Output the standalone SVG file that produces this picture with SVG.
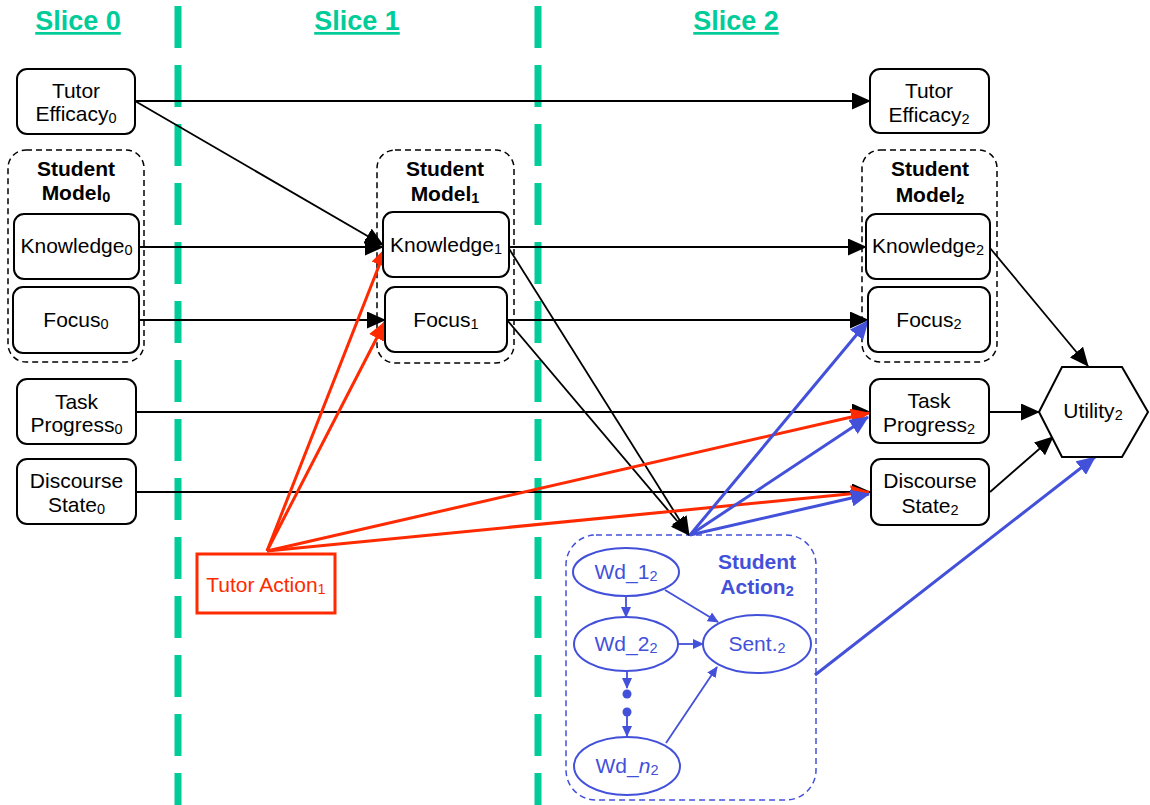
<svg xmlns="http://www.w3.org/2000/svg" width="1150" height="805" viewBox="0 0 1150 805">
<style>
.t{font-family:"Liberation Sans",Arial,Helvetica,sans-serif;font-size:21px;text-anchor:middle;fill:#000}
.b{font-family:"Liberation Sans",Arial,Helvetica,sans-serif;font-size:21px;font-weight:bold;text-anchor:middle;fill:#000}
.sub{font-size:14.5px}
.slice{font-family:"Liberation Sans",Arial,Helvetica,sans-serif;font-size:27px;font-weight:bold;text-anchor:middle;fill:#00CC99;text-decoration:underline}
.node{fill:#fff;stroke:#000;stroke-width:2}
.grp{fill:none;stroke:#000;stroke-width:1.5;stroke-dasharray:6 4}
.sep{stroke:#00CC99;stroke-width:7;stroke-dasharray:42 17}
.k{stroke:#000;stroke-width:1.8;fill:none}
.r{stroke:#FF2A00;stroke-width:3;fill:none}
.bl{stroke:#4250DA;stroke-width:3;fill:none}
.bs{stroke:#4250DA;stroke-width:1.8;fill:none}
.bnode{fill:#fff;stroke:#4250DA;stroke-width:2}
.bt{font-family:"Liberation Sans",Arial,Helvetica,sans-serif;font-size:21px;text-anchor:middle;fill:#4250DA}
.bb{font-family:"Liberation Sans",Arial,Helvetica,sans-serif;font-size:21px;font-weight:bold;text-anchor:middle;fill:#4250DA}
</style>
<defs>
<marker id="ak" markerUnits="userSpaceOnUse" markerWidth="19" markerHeight="17" refX="18" refY="8.5" orient="auto"><path d="M0,0 L19,8.5 L0,17 z" fill="#000"/></marker>
<marker id="ar" markerUnits="userSpaceOnUse" markerWidth="19" markerHeight="17" refX="18" refY="8.5" orient="auto"><path d="M0,0 L19,8.5 L0,17 z" fill="#FF2A00"/></marker>
<marker id="ab" markerUnits="userSpaceOnUse" markerWidth="19" markerHeight="17" refX="18" refY="8.5" orient="auto"><path d="M0,0 L19,8.5 L0,17 z" fill="#4250DA"/></marker>
<marker id="abs" markerUnits="userSpaceOnUse" markerWidth="11" markerHeight="10" refX="10" refY="5" orient="auto"><path d="M0,0 L11,5 L0,10 z" fill="#4250DA"/></marker>
</defs>
<rect width="1150" height="805" fill="#fff"/>

<g id="separators">
<line class="sep" x1="178" y1="6" x2="178" y2="805"/>
<line class="sep" x1="538" y1="6" x2="538" y2="805"/>
</g>
<g id="slice-titles">
<text class="slice" x="78" y="30">Slice 0</text>
<text class="slice" x="357" y="30">Slice 1</text>
<text class="slice" x="736" y="30">Slice 2</text>
</g>

<g id="groups">
<rect class="grp" x="8" y="150" width="136" height="212" rx="18"/>
<text class="b" x="76" y="176">Student</text>
<text class="b" x="76" y="200">Model<tspan class="sub" dy="2">0</tspan></text>
<rect class="grp" x="377" y="150" width="137" height="213" rx="18"/>
<text class="b" x="445" y="176">Student</text>
<text class="b" x="445" y="201">Model<tspan class="sub" dy="2">1</tspan></text>
<rect class="grp" x="862" y="150" width="135" height="212" rx="18"/>
<text class="b" x="930" y="176">Student</text>
<text class="b" x="930" y="202">Model<tspan class="sub" dy="2">2</tspan></text>
</g>

<g id="student-action-2">
<rect x="566" y="535" width="250" height="265" rx="30" fill="none" stroke="#4250DA" stroke-width="1.5" stroke-dasharray="6 4"/>
<text class="bb" x="757" y="569">Student</text>
<text class="bb" x="757" y="594">Action<tspan class="sub" dy="2">2</tspan></text>
</g>

<g id="connectors">
<line class="k" x1="135" y1="101" x2="870" y2="101" marker-end="url(#ak)"/>
<line class="k" x1="135" y1="101" x2="383" y2="245" marker-end="url(#ak)"/>
<line class="k" x1="139" y1="247" x2="383" y2="247" marker-end="url(#ak)"/>
<line class="k" x1="135" y1="320" x2="385" y2="320" marker-end="url(#ak)"/>
<line class="k" x1="136" y1="412" x2="870" y2="412" marker-end="url(#ak)"/>
<line class="k" x1="136" y1="492" x2="870" y2="492" marker-end="url(#ak)"/>
<line class="k" x1="508" y1="247" x2="866" y2="247" marker-end="url(#ak)"/>
<line class="k" x1="507" y1="320" x2="868" y2="320" marker-end="url(#ak)"/>
<line class="k" x1="508" y1="247" x2="689" y2="535" marker-end="url(#ak)"/>
<line class="k" x1="507" y1="320" x2="689" y2="535" marker-end="url(#ak)"/>
<line class="k" x1="990" y1="248" x2="1088" y2="366" marker-end="url(#ak)"/>
<line class="k" x1="989" y1="412" x2="1039" y2="412" marker-end="url(#ak)"/>
<line class="k" x1="990" y1="492" x2="1053" y2="437" marker-end="url(#ak)"/>

<line class="r" x1="267" y1="551" x2="386" y2="248" marker-end="url(#ar)"/>
<line class="r" x1="267" y1="551" x2="385" y2="322" marker-end="url(#ar)"/>
<line class="r" x1="267" y1="551" x2="869" y2="413" marker-end="url(#ar)"/>
<line class="r" x1="267" y1="551" x2="869" y2="492" marker-end="url(#ar)"/>

<line class="bl" x1="690" y1="535" x2="868" y2="321" marker-end="url(#ab)"/>
<line class="bl" x1="690" y1="535" x2="868" y2="417" marker-end="url(#ab)"/>
<line class="bl" x1="690" y1="535" x2="869" y2="494" marker-end="url(#ab)"/>
<line class="bl" x1="815" y1="675" x2="1095" y2="457" marker-end="url(#ab)"/>

<line class="bs" x1="626" y1="597" x2="626" y2="617" marker-end="url(#abs)"/>
<line class="bs" x1="665" y1="590" x2="718" y2="622" marker-end="url(#abs)"/>
<line class="bs" x1="678" y1="644" x2="703" y2="644" marker-end="url(#abs)"/>
<line class="bs" x1="627" y1="672" x2="627" y2="688" marker-end="url(#abs)"/>
<line class="bs" x1="627" y1="716" x2="627" y2="736" marker-end="url(#abs)"/>
<line class="bs" x1="666" y1="743" x2="717" y2="667" marker-end="url(#abs)"/>
<circle cx="627" cy="694" r="4.5" fill="#4250DA"/>
<circle cx="627" cy="712" r="4.5" fill="#4250DA"/>
</g>

<g id="tutor-efficacy-0">
<rect class="node" x="17" y="69" width="118" height="65" rx="10"/>
<text class="t" x="76" y="98">Tutor</text>
<text class="t" x="76" y="121">Efficacy<tspan class="sub" dy="2">0</tspan></text>
</g>
<g id="knowledge-0">
<rect class="node" x="14" y="214" width="125" height="65" rx="10"/>
<text class="t" x="76.5" y="253">Knowledge<tspan class="sub" dy="2">0</tspan></text>
</g>
<g id="focus-0">
<rect class="node" x="13" y="287" width="126" height="66" rx="10"/>
<text class="t" x="76" y="327">Focus<tspan class="sub" dy="2">0</tspan></text>
</g>
<g id="task-progress-0">
<rect class="node" x="17" y="379" width="119" height="65" rx="10"/>
<text class="t" x="76.5" y="409">Task</text>
<text class="t" x="76.5" y="432">Progress<tspan class="sub" dy="2">0</tspan></text>
</g>
<g id="discourse-state-0">
<rect class="node" x="17" y="459" width="119" height="65" rx="10"/>
<text class="t" x="76.5" y="488">Discourse</text>
<text class="t" x="76.5" y="512">State<tspan class="sub" dy="2">0</tspan></text>
</g>

<g id="tutor-action-1">
<rect x="197" y="554" width="138" height="59" fill="#fff" stroke="#FF2A00" stroke-width="3"/>
<text class="t" x="266" y="592" style="fill:#FF2A00">Tutor Action<tspan class="sub" dy="2">1</tspan></text>
</g>

<g id="knowledge-1">
<rect class="node" x="383" y="212" width="126" height="65" rx="10"/>
<text class="t" x="446" y="252">Knowledge<tspan class="sub" dy="2">1</tspan></text>
</g>
<g id="focus-1">
<rect class="node" x="385" y="287" width="122" height="65" rx="10"/>
<text class="t" x="446" y="327">Focus<tspan class="sub" dy="2">1</tspan></text>
</g>

<g id="tutor-efficacy-2">
<rect class="node" x="870" y="69" width="119" height="64" rx="10"/>
<text class="t" x="929" y="98">Tutor</text>
<text class="t" x="929" y="122">Efficacy<tspan class="sub" dy="2">2</tspan></text>
</g>
<g id="knowledge-2">
<rect class="node" x="866" y="214" width="124" height="65" rx="10"/>
<text class="t" x="928" y="253">Knowledge<tspan class="sub" dy="2">2</tspan></text>
</g>
<g id="focus-2">
<rect class="node" x="868" y="287" width="122" height="65" rx="10"/>
<text class="t" x="929" y="327">Focus<tspan class="sub" dy="2">2</tspan></text>
</g>
<g id="task-progress-2">
<rect class="node" x="870" y="379" width="119" height="64" rx="10"/>
<text class="t" x="929" y="408">Task</text>
<text class="t" x="929" y="432">Progress<tspan class="sub" dy="2">2</tspan></text>
</g>
<g id="discourse-state-2">
<rect class="node" x="871" y="459" width="118" height="66" rx="10"/>
<text class="t" x="930" y="488">Discourse</text>
<text class="t" x="930" y="513">State<tspan class="sub" dy="2">2</tspan></text>
</g>
<g id="utility-2">
<polygon points="1039,412 1062,367 1122,367 1148,412 1122,457 1062,457" fill="#fff" stroke="#000" stroke-width="2"/>
<text class="t" x="1093" y="418">Utility<tspan class="sub" dy="2">2</tspan></text>
</g>

<g id="wd-1">
<ellipse class="bnode" cx="626" cy="572" rx="53" ry="24"/>
<text class="bt" x="626" y="579">Wd_1<tspan class="sub" dy="2">2</tspan></text>
</g>
<g id="wd-2">
<ellipse class="bnode" cx="626" cy="644" rx="52" ry="27"/>
<text class="bt" x="626" y="651">Wd_2<tspan class="sub" dy="2">2</tspan></text>
</g>
<g id="sent-2">
<ellipse class="bnode" cx="757" cy="644" rx="54" ry="29"/>
<text class="bt" x="757" y="651">Sent.<tspan class="sub" dy="2">2</tspan></text>
</g>
<g id="wd-n">
<ellipse class="bnode" cx="627" cy="766" rx="53" ry="29"/>
<text class="bt" x="627" y="773">Wd_<tspan font-style="italic">n</tspan><tspan class="sub" dy="2">2</tspan></text>
</g>
</svg>
